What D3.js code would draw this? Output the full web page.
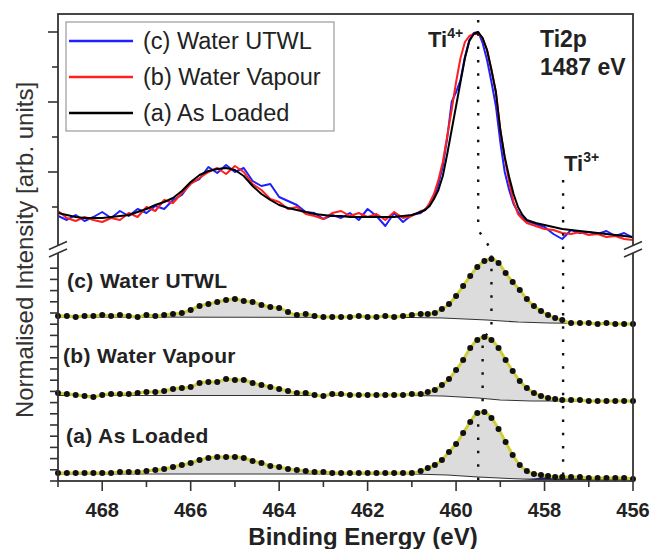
<!DOCTYPE html>
<html><head><meta charset="utf-8">
<script src="https://cdn.jsdelivr.net/npm/d3@7"></script>
<style>body{margin:0;background:#fff}svg{display:block}text{font-family:"Liberation Sans",Arial,Helvetica,sans-serif}</style>
</head><body><svg id="c" width="651" height="549"></svg>
<script>
// ---------- DATA ----------
// Top panel: raw Ti2p spectra (normalised intensity, arb. units)
const topEnergy = [469.0,468.8,468.6,468.4,468.2,468.0,467.8,467.6,467.4,467.2,
  467.0,466.8,466.6,466.4,466.2,466.0,465.8,465.6,465.4,465.2,
  465.0,464.8,464.6,464.4,464.2,464.0,463.8,463.6,463.4,463.2,
  463.0,462.8,462.6,462.4,462.2,462.0,461.8,461.6,461.4,461.2,
  461.0,460.8,
  460.7,460.6,460.5,460.4,460.3,460.2,460.1,460.0,459.9,459.8,
  459.7,459.6,459.5,459.4,459.3,459.2,459.1,459.0,458.9,458.8,
  458.7,458.6,458.5,
  458.4,458.2,458.0,457.8,457.6,457.4,457.2,457.0,456.8,456.6,
  456.4,456.2,456.0];
const topUTWL = [26,22,27,21,25,30,24,31,26,33,
  29,36,33,42,47,59,63,75,69,77,
  70,74,61,56,58,45,41,37,30,29,
  23,27,24,29,22,33,26,16,29,20,
  27,29,
  33,36,45,58,76,104,140,150,162,185,
  202,209,210,199,182,160,136,100,70,52,
  38,30,24,
  21,18,15,8,3,12,9,10,8,11,
  6,9,4];
const topVapour = [31,24,21,25,22,20,24,22,29,25,
  35,31,42,39,49,58,64,70,74,68,
  76,70,58,52,43,40,33,35,28,26,
  23,29,31,26,29,25,28,22,30,24,
  26,31,
  32,39,48,62,80,106,132,160,184,200,
  206,208,208,204,192,172,150,112,84,60,
  40,28,23,
  19,16,13,12,9,8,10,7,8,5,
  6,3,2];
const topLoaded = [29,27,25,24,24,24,25,26,27,30,
  33,37,40,44,51,60,67,71,73,74,
  72,66,56,48,42,37,34,32,30,28,
  27,26,26,25,25,25,25,25,25,26,
  27,30,
  32,36,43,52,66,88,112,136,160,184,
  201,208,210,204,192,172,150,112,85,65,
  48,35,27,
  22,19,17,15,13,12,11,10,9,8,
  7,6,5];

// Bottom panel: offset spectra (data points) with fits
const botEnergy = [469.0,468.8,468.6,468.4,468.2,468.0,467.8,467.6,467.4,467.2,
  467.0,466.8,466.6,466.4,466.2,466.0,465.8,465.6,465.4,465.2,
  465.0,464.8,464.6,464.4,464.2,464.0,463.8,463.6,463.4,463.2,
  463.0,462.8,462.6,462.4,462.2,462.0,461.8,461.6,461.4,461.2,
  461.0,460.8,
  460.64,460.48,460.32,460.16,460.00,459.84,459.68,459.52,459.36,459.20,
  459.04,458.88,458.72,458.56,458.40,458.24,458.08,457.92,457.76,457.60,
  457.4,457.2,457.0,456.8,456.6,456.4,456.2,456.0];
const botUTWL = [165,165,164,165,165,166,165,166,165,164,
  166,165,166,167,168,171,175,177,179,181,
  182,180,179,176,174,173,169,166,167,165,
  164,164,164,164,165,164,164,165,164,165,
  166,167,
  167,168,172,177,185,195,205,214,220,222,
  218,208,199,191,182,175,170,166,163,161,
  158,158,158,157,158,157,157,157];
const botVapour = [88,87,86,85,84,86,87,87,87,88,
  89,89,90,92,93,94,98,99,99,102,
  101,101,98,96,94,92,90,88,88,86,
  85,87,87,86,86,86,86,86,86,86,
  87,87,
  89,91,96,102,111,121,133,141,144,141,
  133,121,110,100,93,88,85,83,82,81,
  81,81,80,80,80,80,80,80];
const botLoaded = [8,8,8,8,8,8,8,9,9,9,
  10,11,12,14,16,18,21,23,24,24,
  24,23,20,18,15,14,12,11,10,9,
  9,8,8,8,8,8,8,8,8,8,
  8,10,
  13,16,21,29,37,48,59,68,69,63,
  52,39,26,16,10,7,6,5,4,4,
  4,4,3,3,3,3,3,2];

// Shirley-type backgrounds (knots)
const bgEnergyUTWL = [469, 461, 460.3, 459.3, 458.6, 457.9, 456];
const bgUTWL = [164, 163.5, 163, 161, 159, 158, 157];
const bgEnergyVapour = [469, 461, 460.3, 459.5, 459.0, 458.3, 456];
const bgVapour = [85.5, 85.5, 85, 83, 81, 80, 80];
const bgEnergyLoaded = [469, 461, 460.2, 459.5, 458.8, 458.2, 456];
const bgLoaded = [7, 7, 6, 4, 2.5, 1.5, 1.5];

// Ti3+ component (As Loaded), height above background
const ti3Energy = [458.5, 458.2, 457.9, 457.6, 457.3, 457.0, 456.8];
const ti3Height = [0, 1.2, 2.4, 3, 2.4, 1.2, 0];

// Peak windows for the grey components
const compWindows = [[466.8, 463.2], [460.8, 457.6]];

const seriesNames = ["(c) Water UTWL", "(b) Water Vapour", "(a) As Loaded"];
const seriesColors = ["#1f1fff", "#ff1f1f", "#000000"];
const panelLabels = ["(c) Water UTWL", "(b) Water Vapour", "(a) As Loaded"];
const xTickValues = [468, 466, 464, 462, 460, 458, 456];
const xTickLabels = ["468", "466", "464", "462", "460", "458", "456"];

// Reference lines
const ti4GuideEnergy = [459.5, 459.5, 459.2, 459.2, 459.4, 459.4, 459.5, 459.5];
const ti4GuideLevel = [461, 251, 231, 153, 141, 79, 71, 1];
const ti3GuideEnergy = [457.58, 457.58];
const ti3GuideLevel = [301, 0];

// ---------- DRAW ----------
const svg = d3.select("#c");
const L = 58, R = 633, T = 14, B = 481;
const x = d3.scaleLinear().domain([469, 456]).range([L, R]);
const yTop = d3.scaleLinear().domain([0, 210]).range([242, 32]);
const yBot = d3.scaleLinear().domain([0, 213]).range([B, 268]);
const ink = "#222";

svg.append("defs").append("clipPath").attr("id", "topclip")
  .append("rect").attr("x", L).attr("y", T).attr("width", R - L).attr("height", 242 - T);

// Bottom spectra
const bottom = [
  {vals: botUTWL, bgE: bgEnergyUTWL, bg: bgUTWL},
  {vals: botVapour, bgE: bgEnergyVapour, bg: bgVapour},
  {vals: botLoaded, bgE: bgEnergyLoaded, bg: bgLoaded}
];
const gB = svg.append("g");
bottom.forEach((s, si) => {
  const bgS = d3.scaleLinear().domain(s.bgE).range(s.bg);
  const pts = botEnergy.map((e, i) => ({e, v: s.vals[i], b: bgS(e)}));
  compWindows.forEach(w => {
    const sub = pts.filter(p => p.e <= w[0] && p.e >= w[1]);
    gB.append("path").datum(sub)
      .attr("d", d3.area().curve(d3.curveMonotoneX)
        .x(p => x(p.e)).y0(p => yBot(p.b)).y1(p => yBot(Math.max(p.v, p.b))))
      .attr("fill", "#dcdcdc");
  });
  if (si === 2) {
    const tp = ti3Energy.map((e, i) => ({e, h: ti3Height[i], b: bgS(e)}));
    gB.append("path").datum(tp)
      .attr("d", d3.area().curve(d3.curveMonotoneX).x(p => x(p.e))
        .y0(p => yBot(p.b)).y1(p => yBot(p.b + p.h)))
      .attr("fill", "#1c1c8c");
  }
  gB.append("path").datum(s.bgE.map((e, i) => [e, s.bg[i]]))
    .attr("d", d3.line().x(d => x(d[0])).y(d => yBot(d[1])))
    .attr("fill", "none").attr("stroke", "#333").attr("stroke-width", 1.1);
  gB.append("path").datum(pts)
    .attr("d", d3.line().curve(d3.curveMonotoneX).x(p => x(p.e)).y(p => yBot(p.v)))
    .attr("fill", "none").attr("stroke", "#cfcf35").attr("stroke-width", 3);
  gB.selectAll(null).data(pts).enter().append("circle")
    .attr("cx", p => x(p.e)).attr("cy", p => yBot(p.v)).attr("r", 3)
    .attr("fill", "#111");
});

// Top spectra
const gT = svg.append("g").attr("clip-path", "url(#topclip)");
[topUTWL, topVapour, topLoaded].forEach((vals, i) => {
  gT.append("path").datum(vals.map((v, j) => [topEnergy[j], v]))
    .attr("d", d3.line().x(d => x(d[0])).y(d => yTop(d[1])))
    .attr("fill", "none").attr("stroke", seriesColors[i]).attr("stroke-width", 2)
    .attr("stroke-linejoin", "round");
});

// Dotted guide lines
const guideLine = d3.line().x(d => x(d[0])).y(d => yBot(d[1]));
svg.append("path").datum(ti4GuideEnergy.map((e, i) => [e, ti4GuideLevel[i]]))
  .attr("d", guideLine).attr("fill", "none").attr("stroke", "#111")
  .attr("stroke-width", 2.4).attr("stroke-dasharray", "2.5,10.8");
svg.append("path").datum(ti3GuideEnergy.map((e, i) => [e, ti3GuideLevel[i]]))
  .attr("d", guideLine).attr("fill", "none").attr("stroke", "#111")
  .attr("stroke-width", 2.4).attr("stroke-dasharray", "2.5,10.8");

// Frame
svg.append("rect").attr("x", L).attr("y", T).attr("width", R - L).attr("height", B - T)
  .attr("fill", "none").attr("stroke", "#333").attr("stroke-width", 1.8);

// Left ticks top panel
const topTicks = [35, 70, 105, 140, 175, 210];
svg.selectAll(".tt").data(topTicks).enter().append("line")
  .attr("x1", d => L - (d % 70 === 0 ? 10 : 6)).attr("x2", L)
  .attr("y1", d => yTop(d)).attr("y2", d => yTop(d))
  .attr("stroke", "#333").attr("stroke-width", 1.6);
// Left ticks bottom panel
const botTicks = d3.range(0, 20).map(i => i * 11.2);
svg.selectAll(".bt").data(botTicks).enter().append("line")
  .attr("x1", L - 8).attr("x2", L)
  .attr("y1", d => yBot(d)).attr("y2", d => yBot(d))
  .attr("stroke", "#333").attr("stroke-width", 1.6);

// X axis ticks
const minorX = [469, 467, 465, 463, 461, 459, 457];
svg.selectAll(".xm").data(xTickValues).enter().append("line")
  .attr("x1", d => x(d)).attr("x2", d => x(d)).attr("y1", B).attr("y2", B + 10)
  .attr("stroke", "#333").attr("stroke-width", 1.6);
svg.selectAll(".xn").data(minorX).enter().append("line")
  .attr("x1", d => x(d)).attr("x2", d => x(d)).attr("y1", B).attr("y2", B + 6)
  .attr("stroke", "#333").attr("stroke-width", 1.6);
svg.selectAll(".xl").data(xTickValues).enter().append("text")
  .attr("x", d => x(d)).attr("y", 517).attr("text-anchor", "middle")
  .attr("font-size", 20).attr("font-weight", "bold").attr("fill", ink)
  .text((d, i) => xTickLabels[i]);

// Axis break marks
[L, R].forEach(cx => {
  svg.append("path")
    .attr("d", `M${cx-9},${249.5}L${cx+9},${241.5}L${cx+9},${249}L${cx-9},${257}Z`)
    .attr("fill", "#fff");
  [245.5, 253].forEach(cy => {
    svg.append("line").attr("x1", cx - 9).attr("y1", cy + 4).attr("x2", cx + 9).attr("y2", cy - 4)
      .attr("stroke", "#333").attr("stroke-width", 1.6);
  });
});

// Axis titles
svg.append("text").attr("transform", "translate(33,250) rotate(-90)")
  .attr("text-anchor", "middle").attr("font-size", 24).attr("fill", "#333")
  .text("Normalised Intensity [arb. units]");
svg.append("text").attr("x", 363).attr("y", 545).attr("text-anchor", "middle")
  .attr("font-size", 24).attr("font-weight", "bold").attr("fill", ink)
  .text("Binding Energy (eV)");

// Legend
svg.append("rect").attr("x", 66).attr("y", 22).attr("width", 268).attr("height", 109)
  .attr("fill", "#fff").attr("stroke", "#999").attr("stroke-width", 1.2);
seriesNames.forEach((n, i) => {
  const ly = 41 + i * 36;
  svg.append("line").attr("x1", 69).attr("x2", 133).attr("y1", ly).attr("y2", ly)
    .attr("stroke", seriesColors[i]).attr("stroke-width", 2.4);
  svg.append("text").attr("x", 143).attr("y", ly + 8).attr("font-size", 23.5).attr("fill", ink).text(n);
});

// Panel labels
const labelPos = [[67, 288], [63, 363], [66, 443]];
panelLabels.forEach((t, i) => {
  svg.append("text").attr("x", labelPos[i][0]).attr("y", labelPos[i][1])
    .attr("font-size", 21).attr("font-weight", "bold").attr("letter-spacing", 0.35)
    .attr("fill", ink).text(t);
});

// Annotations
function supLabel(xp, yp, base, sup) {
  const t = svg.append("text").attr("x", xp).attr("y", yp).attr("font-size", 22)
    .attr("font-weight", "bold").attr("fill", ink);
  t.append("tspan").text(base);
  t.append("tspan").attr("font-size", 14).attr("dy", -9).text(sup);
}
supLabel(428, 47, "Ti", "4+");
supLabel(564, 171, "Ti", "3+");
svg.append("text").attr("x", 540).attr("y", 47).attr("font-size", 23).attr("font-weight", "bold")
  .attr("fill", ink).text("Ti2p");
svg.append("text").attr("x", 540).attr("y", 75).attr("font-size", 23).attr("font-weight", "bold")
  .attr("fill", ink).text("1487 eV");
</script></body></html>
